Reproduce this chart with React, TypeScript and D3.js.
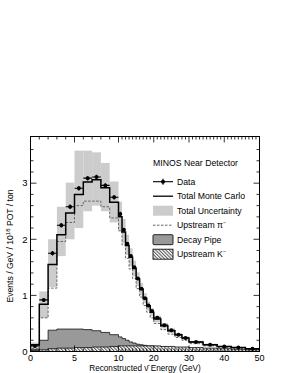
import React, { useEffect, useRef } from 'react'
import * as d3 from 'd3'

// bin edges in GeV (1 GeV to 20, then 2 GeV, then 4 GeV)
const binEdges = [0, 1, 2, 3, 4, 5, 6, 7, 8, 9, 10, 11, 12, 13, 14, 15, 16, 17, 18, 19, 20, 22, 24, 26, 28, 30, 34, 38, 42, 46, 50]

const dataValues = [0.10, 0.92, 1.75, 2.25, 2.58, 2.91, 3.09, 3.11, 2.96, 2.75, 2.45, 2.17, 1.92, 1.70, 1.50, 1.30, 1.12, 0.95, 0.82, 0.72, 0.60, 0.47, 0.38, 0.30, 0.24, 0.17, 0.12, 0.09, 0.07, 0.05]
const dataErrors = [0.02, 0.03, 0.04, 0.04, 0.04, 0.04, 0.04, 0.04, 0.04, 0.04, 0.04, 0.03, 0.03, 0.03, 0.03, 0.03, 0.02, 0.02, 0.02, 0.02, 0.02, 0.02, 0.01, 0.01, 0.01, 0.01, 0.01, 0.01, 0.01, 0.01]
const monteCarlo = [0.12, 0.84, 1.55, 2.08, 2.47, 2.80, 3.02, 3.06, 2.92, 2.66, 2.40, 2.13, 1.89, 1.68, 1.48, 1.29, 1.11, 0.95, 0.81, 0.70, 0.58, 0.46, 0.37, 0.30, 0.24, 0.17, 0.12, 0.09, 0.07, 0.05]
const uncertaintyHigh = [0.16, 1.07, 2.0, 2.58, 3.01, 3.58, 3.58, 3.55, 3.36, 3.03, 2.67, 2.36, 2.08, 1.84, 1.62, 1.41, 1.22, 1.04, 0.89, 0.77, 0.64, 0.51, 0.41, 0.33, 0.27, 0.19, 0.14, 0.10, 0.08, 0.06]
const uncertaintyLow = [0.06, 0.60, 1.15, 1.70, 2.0, 2.2, 2.5, 2.6, 2.5, 2.3, 2.15, 1.93, 1.72, 1.52, 1.34, 1.17, 1.0, 0.86, 0.73, 0.63, 0.52, 0.41, 0.33, 0.27, 0.21, 0.15, 0.11, 0.08, 0.06, 0.04]
const upstreamPi = [0.05, 0.60, 1.13, 1.96, 2.30, 2.60, 2.68, 2.68, 2.58, 2.38, 2.15, 1.90, 1.66, 1.47, 1.30, 1.12, 0.97, 0.82, 0.70, 0.60, 0.50, 0.39, 0.31, 0.25, 0.20, 0.14, 0.10, 0.07, 0.05, 0.04]
const decayPipe = [0.04, 0.20, 0.38, 0.40, 0.40, 0.40, 0.39, 0.37, 0.34, 0.30, 0.26, 0.23, 0.20, 0.17, 0.15, 0.13, 0.12, 0.11, 0.10, 0.10, 0.09, 0.08, 0.07, 0.06, 0.05, 0.04, 0.03, 0.025, 0.02, 0.015]
const upstreamK = [0.02, 0.03, 0.05, 0.06, 0.06, 0.07, 0.07, 0.08, 0.08, 0.09, 0.10, 0.10, 0.10, 0.10, 0.10, 0.10, 0.10, 0.10, 0.10, 0.10, 0.10, 0.09, 0.09, 0.08, 0.08, 0.07, 0.06, 0.05, 0.04, 0.03]

const xTickLabels = [0, 5, 10, 20, 30, 40, 50]
const yTickLabels = [0, 1, 2, 3]
const legendLabels = ['Data', 'Total Monte Carlo', 'Total Uncertainty', 'Upstream π⁻', 'Decay Pipe', 'Upstream K⁻']

const FONT = '"Liberation Sans", Arial, Helvetica, sans-serif'

function App() {
  const ref = useRef<SVGSVGElement>(null)

  useEffect(() => {
    const svg = d3.select(ref.current)
    svg.selectAll('*').remove()

    const x = d3.scaleLinear().domain([0, 10, 50]).range([30.5, 118.5, 259.5])
    const y = d3.scaleLinear().domain([0, 3.832]).range([351.5, 136.5])
    const left = 30.5, right = 259.5, top = 136.5, bottom = 351.5

    const defs = svg.append('defs')
    const clip = defs.append('clipPath').attr('id', 'frame')
    clip.append('rect').attr('x', left).attr('y', top).attr('width', right - left).attr('height', bottom - top)
    const pat = defs.append('pattern')
      .attr('id', 'hatch')
      .attr('patternUnits', 'userSpaceOnUse')
      .attr('width', 2.4).attr('height', 2.4)
      .attr('patternTransform', 'rotate(-45)')
    pat.append('rect').attr('width', 2.4).attr('height', 2.4).attr('fill', 'white')
    pat.append('line').attr('x1', 0.6).attr('y1', 0).attr('x2', 0.6).attr('y2', 2.4)
      .attr('stroke', '#222').attr('stroke-width', 0.8)

    const bins = dataValues.map((_, i) => ({ i, x0: binEdges[i], x1: binEdges[i + 1] }))
    const plot = svg.append('g').attr('clip-path', 'url(#frame)')

    // uncertainty band
    plot.selectAll('rect.band')
      .data(bins)
      .enter()
      .append('rect')
      .attr('class', 'band')
      .attr('x', d => x(d.x0))
      .attr('width', d => x(d.x1) - x(d.x0))
      .attr('y', d => y(uncertaintyHigh[d.i]))
      .attr('height', d => y(uncertaintyLow[d.i]) - y(uncertaintyHigh[d.i]))
      .attr('fill', '#cccccc')

    const stepPts = (vals: number[]) => {
      const pts: [number, number][] = [[0, 0]]
      vals.forEach((v, i) => pts.push([binEdges[i], v]))
      pts.push([binEdges[vals.length], vals[vals.length - 1]])
      pts.push([binEdges[vals.length], 0])
      return pts
    }
    const stepLine = d3.line<[number, number]>()
      .x(d => x(d[0])).y(d => y(d[1]))
      .curve(d3.curveStepAfter)

    const area = d3.area<[number, number]>()
      .x(d => x(d[0])).y0(y(0)).y1(d => y(d[1]))
      .curve(d3.curveStepAfter)

    // decay pipe
    plot.append('path')
      .attr('d', area(stepPts(decayPipe)))
      .attr('fill', '#999999')
      .attr('stroke', '#111').attr('stroke-width', 0.8)

    // upstream K-
    plot.append('path')
      .attr('d', area(stepPts(upstreamK)))
      .attr('fill', 'url(#hatch)')
      .attr('stroke', '#111').attr('stroke-width', 0.8)

    // upstream pi-
    plot.append('path')
      .attr('d', stepLine(stepPts(upstreamPi)))
      .attr('fill', 'none')
      .attr('stroke', '#666').attr('stroke-width', 1)
      .attr('stroke-dasharray', '2.5,1.5')

    // total MC
    plot.append('path')
      .attr('d', stepLine(stepPts(monteCarlo)))
      .attr('fill', 'none')
      .attr('stroke', '#000').attr('stroke-width', 1.5)

    // data
    const pts = plot.selectAll('g.pt').data(bins).enter().append('g').attr('class', 'pt')
    pts.append('line')
      .attr('x1', d => x(d.x0)).attr('x2', d => x(d.x1))
      .attr('y1', d => y(dataValues[d.i])).attr('y2', d => y(dataValues[d.i]))
      .attr('stroke', '#000').attr('stroke-width', 1.1)
    pts.append('line')
      .attr('x1', d => x((d.x0 + d.x1) / 2)).attr('x2', d => x((d.x0 + d.x1) / 2))
      .attr('y1', d => y(dataValues[d.i] - dataErrors[d.i])).attr('y2', d => y(dataValues[d.i] + dataErrors[d.i]))
      .attr('stroke', '#000').attr('stroke-width', 1.1)
    pts.append('circle')
      .attr('cx', d => x((d.x0 + d.x1) / 2))
      .attr('cy', d => y(dataValues[d.i]))
      .attr('r', 2)
      .attr('fill', '#000')

    // frame
    svg.append('rect')
      .attr('x', left).attr('y', top)
      .attr('width', right - left).attr('height', bottom - top)
      .attr('fill', 'none').attr('stroke', '#000').attr('stroke-width', 1)

    // ticks
    const ticks = svg.append('g').attr('stroke', '#000').attr('stroke-width', 0.8)
    d3.range(1, 50).forEach(v => {
      const major = xTickLabels.includes(v)
      const len = major ? 6 : 3
      ticks.append('line').attr('x1', x(v)).attr('x2', x(v)).attr('y1', bottom).attr('y2', bottom - len)
      ticks.append('line').attr('x1', x(v)).attr('x2', x(v)).attr('y1', top).attr('y2', top + len)
    })
    d3.range(1, 19).forEach(k => {
      const v = k * 0.2
      const major = k % 5 === 0
      const len = major ? 6 : 3
      ticks.append('line').attr('x1', left).attr('x2', left + len).attr('y1', y(v)).attr('y2', y(v))
      ticks.append('line').attr('x1', right).attr('x2', right - len).attr('y1', y(v)).attr('y2', y(v))
    })

    // tick labels
    svg.append('g')
      .selectAll('text')
      .data(xTickLabels)
      .enter()
      .append('text')
      .attr('x', d => x(d))
      .attr('y', 361)
      .attr('text-anchor', 'middle')
      .attr('font-family', FONT).attr('font-size', 9)
      .text(d => d)
    svg.append('g')
      .selectAll('text')
      .data(yTickLabels)
      .enter()
      .append('text')
      .attr('x', 27.5)
      .attr('y', d => y(d) + 3.3)
      .attr('text-anchor', 'end')
      .attr('font-family', FONT).attr('font-size', 9.5)
      .text(d => d)

    // axis titles
    svg.append('text')
      .attr('x', (left + right) / 2).attr('y', 371.2)
      .attr('text-anchor', 'middle')
      .attr('font-family', FONT).attr('font-size', 8.2)
      .text('Reconstructed ν̄ Energy (GeV)')
    const yl = svg.append('text')
      .attr('transform', 'translate(13,246) rotate(-90)')
      .attr('text-anchor', 'middle')
      .attr('font-family', FONT).attr('font-size', 8.6)
    yl.append('tspan').text('Events / GeV / 10')
    yl.append('tspan').attr('dy', -3.5).attr('font-size', 6).text('18')
    yl.append('tspan').attr('dy', 3.5).text(' POT / ton')

    // legend
    const lg = svg.append('g').attr('font-family', FONT).attr('font-size', 8.7)
    lg.append('text').attr('x', 153).attr('y', 166).text('MINOS Near Detector')
    const rowY = (i: number) => 181.7 + i * 14.5
    const sx0 = 153, sx1 = 173
    legendLabels.forEach((label, i) => {
      lg.append('text').attr('x', 177).attr('y', rowY(i) + 3).text(label)
    })
    // data symbol
    lg.append('line').attr('x1', sx0).attr('x2', sx1).attr('y1', rowY(0)).attr('y2', rowY(0)).attr('stroke', '#000').attr('stroke-width', 1.1)
    lg.append('line').attr('x1', 163).attr('x2', 163).attr('y1', rowY(0) - 3).attr('y2', rowY(0) + 3).attr('stroke', '#000').attr('stroke-width', 1.1)
    lg.append('circle').attr('cx', 163).attr('cy', rowY(0)).attr('r', 2).attr('fill', '#000')
    lg.append('line').attr('x1', sx0).attr('x2', sx1).attr('y1', rowY(1)).attr('y2', rowY(1)).attr('stroke', '#000').attr('stroke-width', 1.3)
    lg.append('rect').attr('x', sx0).attr('y', rowY(2) - 5).attr('width', sx1 - sx0).attr('height', 10).attr('fill', '#cccccc')
    lg.append('line').attr('x1', sx0).attr('x2', sx1).attr('y1', rowY(3)).attr('y2', rowY(3)).attr('stroke', '#666').attr('stroke-width', 1).attr('stroke-dasharray', '2.5,1.5')
    lg.append('rect').attr('x', sx0).attr('y', rowY(4) - 5).attr('width', sx1 - sx0).attr('height', 10).attr('rx', 1)
      .attr('fill', '#999999').attr('stroke', '#111').attr('stroke-width', 0.9)
    lg.append('rect').attr('x', sx0).attr('y', rowY(5) - 5).attr('width', sx1 - sx0).attr('height', 10)
      .attr('fill', 'url(#hatch)').attr('stroke', '#111').attr('stroke-width', 0.9)
  }, [])

  return (
    <svg ref={ref} width={299} height={373}
      style={{ position: 'absolute', left: 0, top: 0, background: '#fff' }} />
  )
}

export default App
